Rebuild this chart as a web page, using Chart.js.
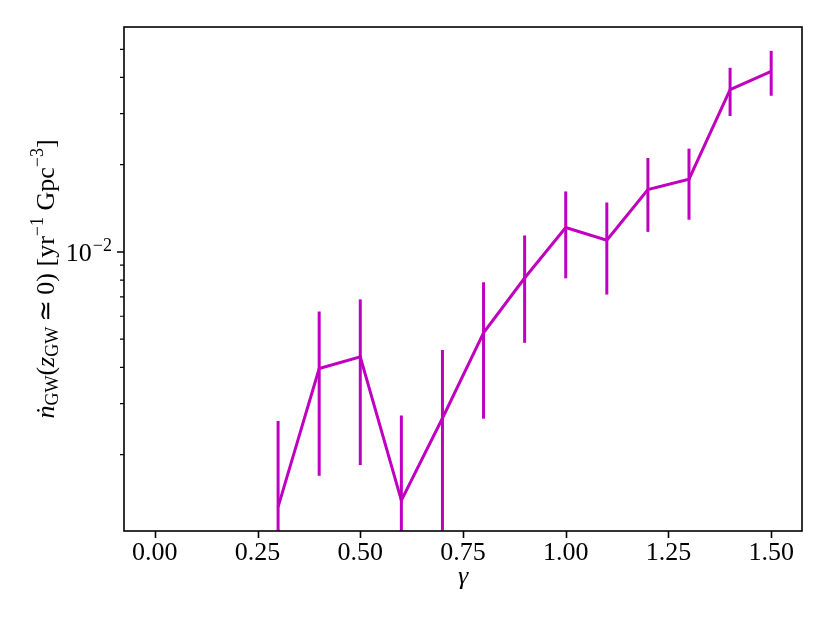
<!DOCTYPE html>
<html>
<head>
<meta charset="utf-8">
<script src="https://cdn.jsdelivr.net/npm/chart.js@4.4.0/dist/chart.umd.min.js"></script>
<style>
  html, body { margin: 0; padding: 0; background: #fff; }
  #wrap { width: 830px; height: 623px; }
</style>
</head>
<body>
<div id="wrap"><canvas id="rateChart"></canvas></div>
<script>
// gamma on the x axis, merger rate (log) with symmetric errors
const gammaValues = [0.0, 0.1, 0.2, 0.3, 0.4, 0.5, 0.6, 0.7, 0.8, 0.9, 1.0, 1.1, 1.2, 1.3, 1.4, 1.5];
const rateValues = [null, null, null, 1.32e-3, 3.96e-3, 4.35e-3, 1.39e-3, 2.67e-3, 5.26e-3, 8.13e-3, 1.214e-2, 1.097e-2, 1.641e-2, 1.782e-2, 3.631e-2, 4.198e-2];
const rateErrors = [null, null, null, 1.29e-3, 2.27e-3, 2.51e-3, 1.34e-3, 1.92e-3, 2.6e-3, 3.27e-3, 4.03e-3, 3.84e-3, 4.68e-3, 4.9e-3, 6.87e-3, 7.4e-3];

const xTicks = [0, 0.25, 0.5, 0.75, 1.0, 1.25, 1.5];
const yMajorTicks = [1e-2];
const yMinorTicks = [2e-3, 3e-3, 4e-3, 5e-3, 6e-3, 7e-3, 8e-3, 9e-3, 2e-2, 3e-2, 4e-2, 5e-2];
const xRange = [-0.075, 1.575];
const yRange = [1.09e-3, 5.97e-2];

const MAGENTA = '#bf00bf';
const SERIF = '"Liberation Serif", "DejaVu Serif", serif';
const FS = 26, FS_SMALL = 18;

// errorbars, frame, tick marks, the 10^-2 label and the y-axis title
const mplLook = {
  id: 'mplLook',
  afterDatasetsDraw(chart) {
    const ctx = chart.ctx;
    const area = chart.chartArea;
    const xs = chart.scales.x, ys = chart.scales.y;

    ctx.save();
    ctx.beginPath();
    ctx.rect(area.left, area.top, area.right - area.left, area.bottom - area.top);
    ctx.clip();
    ctx.strokeStyle = MAGENTA;
    ctx.lineWidth = 3;
    rateValues.forEach((v, i) => {
      if (v === null) return;
      const e = rateErrors[i];
      const px = xs.getPixelForValue(gammaValues[i]);
      const top = ys.getPixelForValue(v + e);
      const lo = v - e;
      const bottom = lo > 0 ? ys.getPixelForValue(lo) : area.bottom + 10;
      ctx.beginPath();
      ctx.moveTo(px, top);
      ctx.lineTo(px, bottom);
      ctx.stroke();
    });
    ctx.restore();
  },
  afterDraw(chart) {
    const ctx = chart.ctx;
    const area = chart.chartArea;
    const xs = chart.scales.x, ys = chart.scales.y;

    ctx.save();
    ctx.strokeStyle = '#000';
    ctx.lineWidth = 1.6;
    ctx.strokeRect(area.left, area.top, area.right - area.left, area.bottom - area.top);

    ctx.beginPath();
    xTicks.forEach(t => {
      const px = Math.round(xs.getPixelForValue(t)) + 0.5;
      ctx.moveTo(px, area.bottom);
      ctx.lineTo(px, area.bottom + 7);
    });
    yMajorTicks.forEach(t => {
      const py = ys.getPixelForValue(t);
      ctx.moveTo(area.left, py);
      ctx.lineTo(area.left - 7, py);
    });
    ctx.stroke();
    ctx.lineWidth = 1.2;
    ctx.beginPath();
    yMinorTicks.forEach(t => {
      const py = ys.getPixelForValue(t);
      ctx.moveTo(area.left, py);
      ctx.lineTo(area.left - 4, py);
    });
    ctx.stroke();

    // y tick label 10^-2
    ctx.fillStyle = '#000';
    ctx.textBaseline = 'alphabetic';
    ctx.textAlign = 'right';
    yMajorTicks.forEach(t => {
      const py = ys.getPixelForValue(t);
      const exp = Math.round(Math.log10(t));
      const supTxt = '\u2212' + Math.abs(exp);
      ctx.font = FS_SMALL + 'px ' + SERIF;
      const supW = ctx.measureText(supTxt).width;
      const right = area.left - 12;
      ctx.fillText(supTxt, right, py - 1);
      ctx.font = FS + 'px ' + SERIF;
      ctx.fillText('10', right - supW - 1, py + 9);
    });

    // y axis title with sub/superscripts
    const big = FS + 'px ' + SERIF, small = FS_SMALL + 'px ' + SERIF;
    const parts = [
      { t: '\u1E45', font: 'italic ' + big, dy: 0 },
      { t: 'GW', font: small, dy: 4 },
      { t: '(', font: big, dy: 0 },
      { t: 'z', font: 'italic ' + big, dy: 0 },
      { t: 'GW', font: small, dy: 4 },
      { t: '\u2009\u2243\u2009', font: big, dy: 0 },
      { t: '0) [yr', font: big, dy: 0 },
      { t: '\u22121', font: small, dy: -11 },
      { t: ' Gpc', font: big, dy: 0 },
      { t: '\u22123', font: small, dy: -11 },
      { t: ']', font: big, dy: 0 }
    ];
    let total = 0;
    parts.forEach(p => { ctx.font = p.font; p.w = ctx.measureText(p.t).width; total += p.w; });
    const cy = (area.top + area.bottom) / 2;
    ctx.translate(54, cy);
    ctx.rotate(-Math.PI / 2);
    ctx.textAlign = 'left';
    let x = -total / 2;
    parts.forEach(p => {
      ctx.font = p.font;
      ctx.fillText(p.t, x, p.dy);
      x += p.w;
    });
    ctx.restore();
  }
};

new Chart(document.getElementById('rateChart'), {
  type: 'line',
  data: {
    datasets: [{
      data: gammaValues.map((g, i) => ({ x: g, y: rateValues[i] })),
      borderColor: MAGENTA,
      borderWidth: 3,
      pointRadius: 0,
      tension: 0,
      spanGaps: false,
      clip: 0
    }]
  },
  options: {
    responsive: true,
    maintainAspectRatio: false,
    animation: false,
    events: [],
    layout: { padding: { top: 27, right: 28, left: 0, bottom: 0 } },
    plugins: { legend: { display: false }, tooltip: { enabled: false } },
    scales: {
      x: {
        type: 'linear',
        min: xRange[0],
        max: xRange[1],
        afterBuildTicks: s => { s.ticks = xTicks.map(v => ({ value: v })); },
        afterFit: s => { s.height = 92; },
        grid: { display: false, drawTicks: false },
        border: { display: false },
        ticks: {
          autoSkip: false,
          maxRotation: 0,
          padding: 7,
          color: '#000',
          font: { family: SERIF, size: FS },
          callback: v => Number(v).toFixed(2)
        },
        title: {
          display: true,
          text: '\u03B3',
          color: '#000',
          font: { family: SERIF, size: FS, style: 'italic' },
          padding: { top: 0, bottom: 30 }
        }
      },
      y: {
        type: 'logarithmic',
        min: yRange[0],
        max: yRange[1],
        afterBuildTicks: s => { s.ticks = yMajorTicks.concat(yMinorTicks).map(v => ({ value: v })); },
        afterFit: s => { s.width = 124; },
        grid: { display: false, drawTicks: false },
        border: { display: false },
        ticks: { display: false }
      }
    }
  },
  plugins: [mplLook]
});
</script>
</body>
</html>
